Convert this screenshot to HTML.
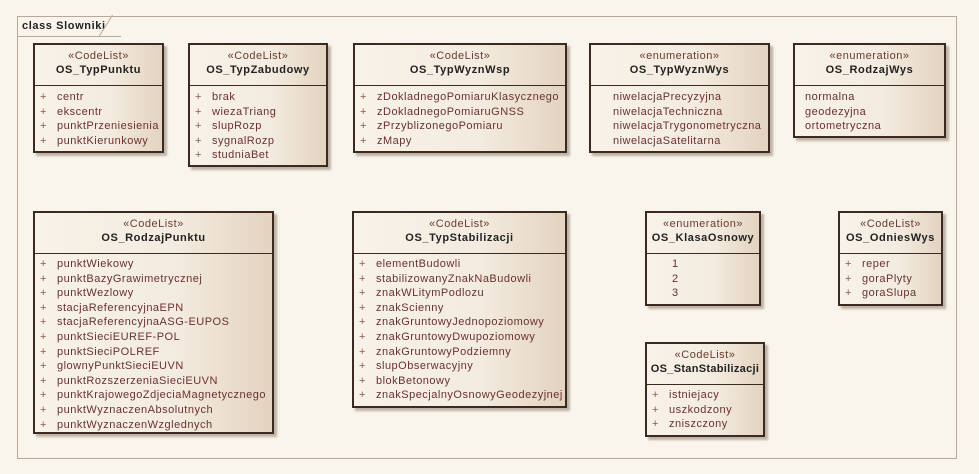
<!DOCTYPE html>
<html><head><meta charset="utf-8"><style>
body{margin:0;width:979px;height:474px;background:#f9f5ec;font-family:"Liberation Sans",sans-serif;position:relative;overflow:hidden;letter-spacing:0.5px}
.frame{position:absolute;left:17px;top:16px;width:940px;height:443px;border:1px solid #b8a89a;box-sizing:border-box}
.tab{position:absolute;left:17px;top:16px;width:104px;height:21px;border-bottom:1px solid #b8a89a;font-size:11px;font-weight:bold;color:#222;line-height:20px;padding-left:5px;box-sizing:border-box;letter-spacing:0.6px}
.tabc{position:absolute;left:112px;top:15px;width:1px;height:25px;background:#b8a89a;transform:rotate(32deg);transform-origin:top}
.box{position:absolute;border:2px solid #3a2a22;box-sizing:border-box;background:linear-gradient(90deg,#f8f2e8 0%,#f3ebdf 60%,#e3d3c0 100%);box-shadow:3px 3px 2px rgba(120,100,80,.45)}
.hd{position:absolute;left:0;right:0;top:0;border-bottom:1.5px solid #3a2a22;text-align:center;font-size:11px}
.st{color:#6b3b30;margin-top:5px;line-height:13px}
.nm{font-weight:bold;color:#222;line-height:15px;letter-spacing:0.6px}
.rows{position:absolute;left:0;right:0;font-size:11px;color:#6b3030;line-height:14.6px}
.r{white-space:nowrap;position:relative;padding-left:22px}
.r.p:before{content:"+";position:absolute;left:5px;color:#8a5a50}
</style></head><body>
<div class="frame"></div>
<div class="tab">class Slowniki</div>
<div class="tabc"></div>

<div class="box" style="left:33px;top:43px;width:131px;height:110px">
<div class="hd" style="height:40px"><div class="st">«CodeList»</div><div class="nm">OS_TypPunktu</div></div>
<div class="rows" style="top:45px"><div class="r p">centr</div><div class="r p">ekscentr</div><div class="r p">punktPrzeniesienia</div><div class="r p">punktKierunkowy</div></div></div>

<div class="box" style="left:188px;top:43px;width:140px;height:124px">
<div class="hd" style="height:40px"><div class="st">«CodeList»</div><div class="nm">OS_TypZabudowy</div></div>
<div class="rows" style="top:45px"><div class="r p">brak</div><div class="r p">wiezaTriang</div><div class="r p">slupRozp</div><div class="r p">sygnalRozp</div><div class="r p">studniaBet</div></div></div>

<div class="box" style="left:353px;top:43px;width:214px;height:110px">
<div class="hd" style="height:40px"><div class="st">«CodeList»</div><div class="nm">OS_TypWyznWsp</div></div>
<div class="rows" style="top:45px"><div class="r p">zDokladnegoPomiaruKlasycznego</div><div class="r p">zDokladnegoPomiaruGNSS</div><div class="r p">zPrzyblizonegoPomiaru</div><div class="r p">zMapy</div></div></div>

<div class="box" style="left:589px;top:43px;width:181px;height:110px">
<div class="hd" style="height:40px"><div class="st">«enumeration»</div><div class="nm">OS_TypWyznWys</div></div>
<div class="rows" style="top:45px"><div class="r">niwelacjaPrecyzyjna</div><div class="r">niwelacjaTechniczna</div><div class="r">niwelacjaTrygonometryczna</div><div class="r">niwelacjaSatelitarna</div></div></div>

<div class="box" style="left:793px;top:43px;width:153px;height:95px">
<div class="hd" style="height:40px"><div class="st">«enumeration»</div><div class="nm">OS_RodzajWys</div></div>
<div class="rows" style="top:45px"><div class="r" style="padding-left:10px">normalna</div><div class="r" style="padding-left:10px">geodezyjna</div><div class="r" style="padding-left:10px">ortometryczna</div></div></div>

<div class="box" style="left:33px;top:211px;width:241px;height:223px">
<div class="hd" style="height:40px"><div class="st">«CodeList»</div><div class="nm">OS_RodzajPunktu</div></div>
<div class="rows" style="top:44px"><div class="r p">punktWiekowy</div><div class="r p">punktBazyGrawimetrycznej</div><div class="r p">punktWezlowy</div><div class="r p">stacjaReferencyjnaEPN</div><div class="r p">stacjaReferencyjnaASG-EUPOS</div><div class="r p">punktSieciEUREF-POL</div><div class="r p">punktSieciPOLREF</div><div class="r p">glownyPunktSieciEUVN</div><div class="r p">punktRozszerzeniaSieciEUVN</div><div class="r p">punktKrajowegoZdjeciaMagnetycznego</div><div class="r p">punktWyznaczenAbsolutnych</div><div class="r p">punktWyznaczenWzglednych</div></div></div>

<div class="box" style="left:352px;top:211px;width:215px;height:197px">
<div class="hd" style="height:40px"><div class="st">«CodeList»</div><div class="nm">OS_TypStabilizacji</div></div>
<div class="rows" style="top:44px"><div class="r p">elementBudowli</div><div class="r p">stabilizowanyZnakNaBudowli</div><div class="r p">znakWLitymPodlozu</div><div class="r p">znakScienny</div><div class="r p">znakGruntowyJednopoziomowy</div><div class="r p">znakGruntowyDwupoziomowy</div><div class="r p">znakGruntowyPodziemny</div><div class="r p">slupObserwacyjny</div><div class="r p">blokBetonowy</div><div class="r p">znakSpecjalnyOsnowyGeodezyjnej</div></div></div>

<div class="box" style="left:645px;top:211px;width:116px;height:95px">
<div class="hd" style="height:40px"><div class="st">«enumeration»</div><div class="nm">OS_KlasaOsnowy</div></div>
<div class="rows" style="top:44px"><div class="r" style="padding-left:25px">1</div><div class="r" style="padding-left:25px">2</div><div class="r" style="padding-left:25px">3</div></div></div>

<div class="box" style="left:838px;top:211px;width:105px;height:95px">
<div class="hd" style="height:40px"><div class="st">«CodeList»</div><div class="nm">OS_OdniesWys</div></div>
<div class="rows" style="top:44px"><div class="r p">reper</div><div class="r p">goraPlyty</div><div class="r p">goraSlupa</div></div></div>

<div class="box" style="left:645px;top:342px;width:120px;height:95px">
<div class="hd" style="height:40px"><div class="st">«CodeList»</div><div class="nm" style="letter-spacing:0.3px">OS_StanStabilizacji</div></div>
<div class="rows" style="top:44px"><div class="r p">istniejacy</div><div class="r p">uszkodzony</div><div class="r p">zniszczony</div></div></div>
</body></html>
